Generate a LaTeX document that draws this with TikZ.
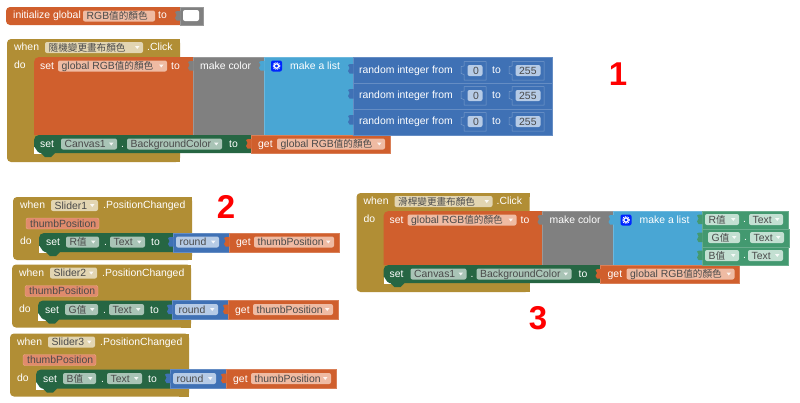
\documentclass[tikz,border=0pt]{standalone}
\usepackage{fontspec}
\setmainfont{Liberation Sans}
\newfontfamily\cjkfam{Noto Sans CJK TC}
\newcommand{\cj}[1]{{\cjkfam\fontsize{9.6}{12}\selectfont #1}}
\definecolor{corange}{HTML}{D05F2D}
\definecolor{cgray}{HTML}{808080}
\definecolor{clist}{HTML}{49A6D4}
\definecolor{cblue}{HTML}{3F71B5}
\definecolor{cgreen}{HTML}{266643}
\definecolor{clgreen}{HTML}{439970}
\definecolor{colive}{HTML}{B18E35}
\definecolor{fdorange}{HTML}{EFBBA3}
\definecolor{fdolive}{HTML}{E2D5B2}
\definecolor{fdgreen}{HTML}{A9C4B6}
\definecolor{fdlgreen}{HTML}{C3E0D2}
\definecolor{fdblue}{HTML}{B6CBE6}
\definecolor{fdtxt}{HTML}{4A4A4A}
\definecolor{parfill}{HTML}{E08B6C}
\definecolor{parline}{HTML}{F0A98C}
\tikzset{
  lbl/.style={anchor=west,inner sep=0pt,yshift=-1.2pt,text height=8pt,text depth=2.5pt,text=white,font=\fontsize{10.4}{12}\selectfont},
  fdlbl/.style={lbl,text=fdtxt},
  bignum/.style={text=red,inner sep=0pt,font=\bfseries\fontsize{33}{36}\selectfont}
}
\newcount\nodeno
\newcommand{\bk}[5]{\fill[#5,draw=#5!80!white,line width=.4pt] (#1,#2) rectangle (#3,#4);}
\newcommand{\tx}[3]{\global\advance\nodeno by 1 \node[lbl] (n\the\nodeno) at (#1,#2) {#3};}
\newcommand{\fd}[5]{\fill[#5,rounded corners=2pt] (#1,#3-5.5) rectangle (#2,#3+5.5);
  \fill[white!85!#5] (#2-8,#3-1.5) -- (#2-3.5,#3-1.5) -- (#2-5.75,#3+1.5) -- cycle;
  \global\advance\nodeno by 1 \node[fdlbl] (n\the\nodeno) at (#1+3.5,#3) {#4};}
\newcommand{\pf}[5]{\fill[#5,rounded corners=2pt] (#1,#3-5.5) rectangle (#2,#3+5.5);
  \global\advance\nodeno by 1 \node[fdlbl] (n\the\nodeno) at (#1+3.5,#3) {#4};}
\newcommand{\tab}[3]{\fill[#3] (#1+.5,#2-5) -- (#1-3,#2-5) -- (#1-5,#2-4) -- (#1-3.5,#2-1) -- (#1-5,#2+2) -- (#1-3.5,#2+4.5) -- (#1+.5,#2+4.5) -- cycle;}
\newcommand{\stmt}[5]{\fill[white] (#1,#4-7) rectangle (#1+8,#4+1);
  \fill[#5] (#1+5,#2) -- (#3,#2) -- (#3,#4) -- (#1+21,#4) -- (#1+17,#4+4) -- (#1+11,#4+4) -- (#1+7,#4) -- (#1+6,#4) to[out=180,in=90] (#1,#4-6) -- (#1,#2+5) to[out=90,in=180] cycle;}
\newcommand{\slot}[4]{\draw[white!30!cblue,line width=.5pt] (#1,#3-9) -- (#2,#3-9) -- (#2,#3+9.5) -- (#1,#3+9.5) -- (#1,#3+4) -- (#1-3,#3+3) -- (#1-3,#3-4) -- (#1,#3-4.5) -- cycle;
  \pf{#1+3.5}{#2-3.5}{#3}{#4}{fdblue}}
\newcommand{\rnd}[2]{\bk{353}{#1}{552}{#1+26}{cblue}\tab{353}{#2-1}{cblue}
  \tx{359}{#2}{random integer from}\slot{464}{486}{#2+.5}{\hspace{1.8pt}0}\tx{492}{#2}{to}\slot{512}{544}{#2+.5}{255}}
\newcommand{\gear}[2]{\fill[blue!85!cyan,rounded corners=2pt] (#1,#2) rectangle (#1+11,#2+11);
  \draw[white,line width=1.2pt] (#1+5.5,#2+5.5) circle (2.2pt);
  \draw[white,dashed,dash pattern=on .9pt off .9pt,line width=1pt] (#1+5.5,#2+5.5) circle (3.4pt);}
\newcommand{\clickblk}[2]{
  \fill[colive,rounded corners=4pt] (7,39) rectangle (180,57+#2+27);
  \fill[colive] (170,39) rectangle (180,43);
  \fill[colive] (170,70) rectangle (180,57+#2+27);
  \tx{14}{47}{when}\fd{45}{143}{47.5}{\cj{#1}}{fdolive}\tx{147}{47}{.Click}
  \tx{14}{65}{do}
  \fill[corange] (39,57) -- (193,57) -- (193,57+#2) -- (34,57+#2) -- (34,62) to[out=90,in=180] cycle;
  \bk{193}{57}{264}{57+#2}{cgray}
  \bk{264}{57}{353}{57+#2}{clist}
  \tab{193}{66}{cgray}\tab{264}{66}{clist}
  \tx{40}{66}{set}\fd{58}{167}{66}{global RGB\cj{值的顏色}}{fdorange}\tx{171}{66}{to}
  \tx{200}{66}{make color}\gear{271}{60.5}\tx{290}{66}{make a list}
  \stmt{34}{57+#2}{251}{57+#2+18}{cgreen}
  \bk{251}{57+#2}{390}{57+#2+18}{corange}\tab{251}{57+#2+9}{corange}
  \tx{40}{57+#2+9}{set}\fd{61}{117}{57+#2+9}{Canvas1}{fdgreen}\tx{121}{57+#2+9}{.}
  \fd{127}{222}{57+#2+9}{BackgroundColor}{fdgreen}\tx{229}{57+#2+9}{to}
  \tx{258}{57+#2+9}{get}\fd{277}{385}{57+#2+9}{global RGB\cj{值的顏色}}{fdorange}
}
\newcommand{\sliderblk}[2]{
  \fill[colive,rounded corners=4pt] (13,197) rectangle (192,260);
  \fill[colive] (182,197) rectangle (192,260);
  \tx{20}{205}{when}\fd{51}{98}{205.5}{#1}{fdolive}\tx{103}{205}{.PositionChanged}
  \fill[parfill,rounded corners=2pt,draw=parline] (26,218) rectangle (99,229);
  \global\advance\nodeno by 1 \node[fdlbl] (n\the\nodeno) at (30,223.5) {thumbPosition};
  \tx{20}{241}{do}
  \stmt{39}{233}{173}{252}{cgreen}
  \bk{173}{233}{229}{252}{cblue}\bk{229}{233}{339}{252}{corange}
  \tab{173}{242}{cblue}\tab{229}{242}{corange}
  \tx{46}{242}{set}\fd{66}{99}{242}{#2\cj{值}}{fdgreen}\tx{104}{242}{.}
  \fd{110}{145}{242}{Text}{fdgreen}\tx{151}{242}{to}
  \fd{176}{219}{242}{round}{fdblue}\tx{236}{242}{get}\fd{254}{334}{242}{thumbPosition}{fdorange}
}
\begin{document}
\begin{tikzpicture}[x=1pt,y=-1pt]
\useasboundingbox (0,0) rectangle (800,402);
\fill[white] (0,0) rectangle (800,402);
% initialize
\fill[corange,rounded corners=4pt] (6,7) rectangle (186,25);
\bk{180}{7}{203}{25}{cgray}\tab{180}{16}{cgray}
\fill[white,rounded corners=2pt] (183,10) rectangle (199,21);
\tx{13}{15}{initialize global}\pf{83}{155}{16}{RGB\cj{值的顏色}}{fdorange}\tx{158}{15}{to}
% group 1
\clickblk{隨機變更畫布顏色}{78}
\rnd{57}{70}\rnd{83}{95}\rnd{109}{121}
% group 3
\begin{scope}[shift={(349.5,154)}]
\clickblk{滑桿變更畫布顏色}{54}
\end{scope}
\bk{702}{211}{788}{229}{clgreen}\bk{702}{229}{789}{247}{clgreen}\bk{702}{247}{788}{265}{clgreen}
\tab{702}{219.5}{clgreen}\tab{702}{237.5}{clgreen}\tab{702}{255.5}{clgreen}
\fd{705}{739}{219.5}{R\cj{值}}{fdlgreen}\tx{743}{219}{.}\fd{749}{783}{219.5}{Text}{fdlgreen}
\fd{708}{740}{237.5}{G\cj{值}}{fdlgreen}\tx{744}{237}{.}\fd{750}{784}{237.5}{Text}{fdlgreen}
\fd{705}{739}{255.5}{B\cj{值}}{fdlgreen}\tx{743}{255}{.}\fd{748}{783}{255.5}{Text}{fdlgreen}
% group 2
\sliderblk{Slider1}{R}
\begin{scope}[shift={(-1,67.5)}]\sliderblk{Slider2}{G}\end{scope}
\begin{scope}[shift={(-3,136.5)}]\sliderblk{Slider3}{B}\end{scope}
% numbers
\node[bignum] (one) at (618,74) {1};
\node[bignum] (two) at (226,207) {2};
\node[bignum] (three) at (538,318) {3};
\end{tikzpicture}
\end{document}
